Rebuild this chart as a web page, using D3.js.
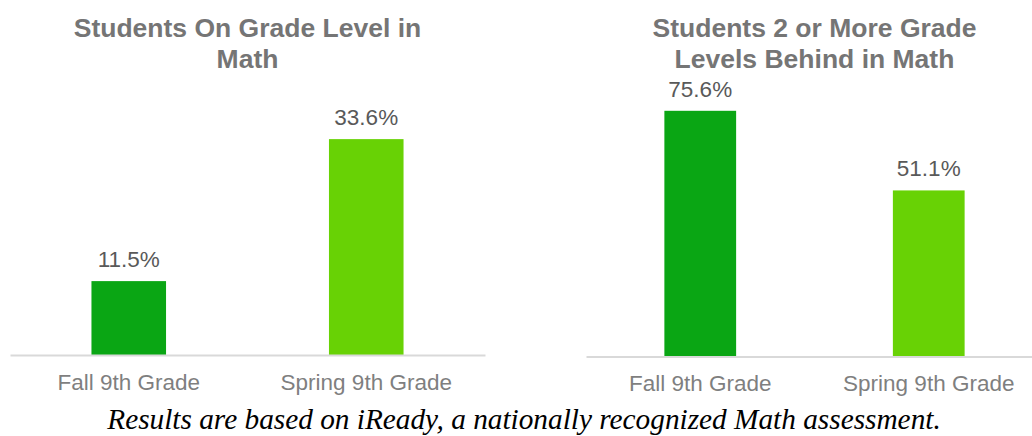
<!DOCTYPE html>
<html>
<head>
<meta charset="utf-8">
<script src="https://cdn.jsdelivr.net/npm/d3@7"></script>
<style>
  body { margin: 0; background: #fff; overflow: hidden; }
  svg { display: block; }
</style>
</head>
<body>
<svg id="chart"></svg>
<script>
const width = 1032;
const height = 436;

// Data
const categories = ["Fall 9th Grade", "Spring 9th Grade"];
const onGradeValues = [11.5, 33.6];
const behindValues = [75.6, 51.1];
const titles = [
    ["Students On Grade Level in", "Math"],
    ["Students 2 or More Grade", "Levels Behind in Math"]
];
const barColors = ["#0aa614", "#68d205"];
const caption = "Results are based on iReady, a nationally recognized Math assessment.";

const svg = d3.select("#chart")
    .attr("width", width)
    .attr("height", height);

const panels = [
    { title: titles[0], values: onGradeValues, x0: 10, x1: 485, base: 355, top: 98, max: 40 },
    { title: titles[1], values: behindValues, x0: 586, x1: 1043, base: 356.5, top: 96.5, max: 80 }
];

panels.forEach(p => {
    const g = svg.append("g");

    const x = d3.scaleBand()
        .domain(categories)
        .range([p.x0, p.x1])
        .paddingInner(0.686)
        .paddingOuter(0.343);

    const y = d3.scaleLinear()
        .domain([0, p.max])
        .range([p.base, p.top]);

    // Title
    const cx = (p.x0 + p.x1) / 2;
    g.selectAll(".title")
        .data(p.title)
        .join("text")
        .attr("class", "title")
        .attr("x", cx)
        .attr("y", (d, i) => 37 + i * 31)
        .attr("text-anchor", "middle")
        .style("font-family", "Liberation Sans, Arial, sans-serif")
        .style("font-weight", "bold")
        .style("font-size", "26.5px")
        .style("fill", "#757575")
        .text(d => d);

    // Bars
    const data = categories.map((c, i) => ({ cat: c, value: p.values[i], color: barColors[i] }));

    g.selectAll(".bar")
        .data(data)
        .join("rect")
        .attr("class", "bar")
        .attr("x", d => x(d.cat))
        .attr("width", x.bandwidth())
        .attr("y", d => y(d.value))
        .attr("height", d => y(0) - y(d.value))
        .attr("fill", d => d.color);

    // Value labels
    g.selectAll(".val")
        .data(data)
        .join("text")
        .attr("class", "val")
        .attr("x", d => x(d.cat) + x.bandwidth() / 2)
        .attr("y", d => y(d.value) - 14)
        .attr("text-anchor", "middle")
        .style("font-family", "Liberation Sans, Arial, sans-serif")
        .style("font-size", "22.5px")
        .style("fill", "#595959")
        .text(d => d.value.toFixed(1) + "%");

    // Axis
    const axis = g.append("g")
        .attr("transform", `translate(0,${p.base})`)
        .call(d3.axisBottom(x).tickSize(0).tickPadding(19));
    axis.select(".domain")
        .attr("stroke", "#d9d9d9")
        .attr("stroke-width", 2);
    axis.selectAll(".tick text")
        .style("font-family", "Liberation Sans, Arial, sans-serif")
        .style("font-size", "22.5px")
        .style("fill", "#7f7f7f");
});

svg.append("text")
    .attr("x", 524)
    .attr("y", 429)
    .attr("text-anchor", "middle")
    .style("font-family", "Liberation Serif, Times New Roman, serif")
    .style("font-style", "italic")
    .style("font-size", "29.3px")
    .style("fill", "#000")
    .text(caption);
</script>
</body>
</html>
